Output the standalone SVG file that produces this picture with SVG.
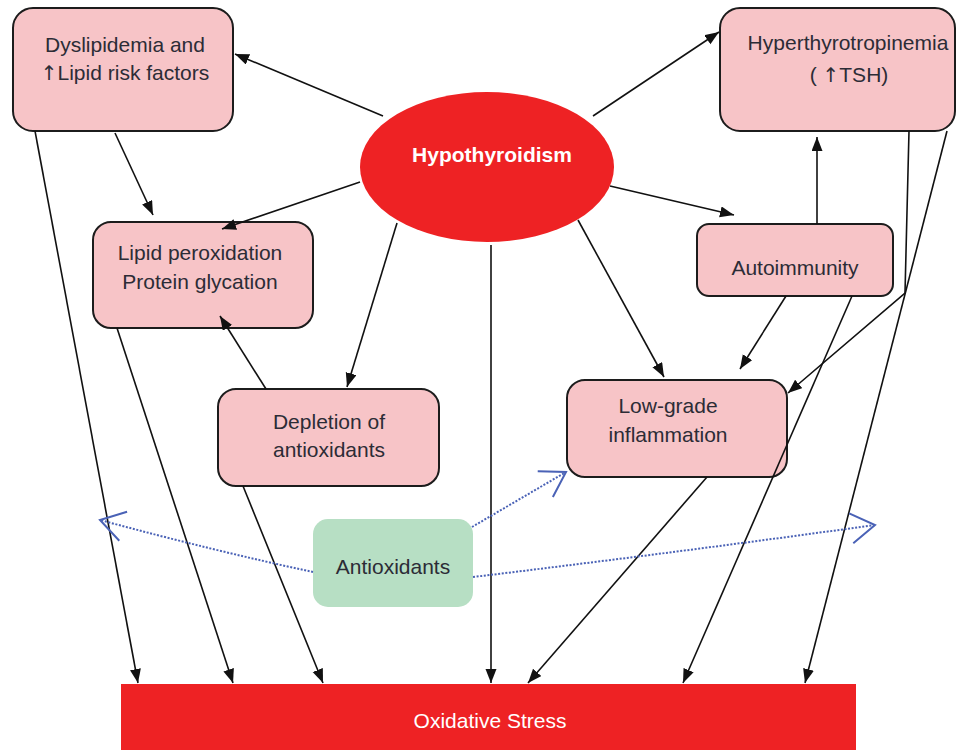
<svg xmlns="http://www.w3.org/2000/svg" width="956" height="750" viewBox="0 0 956 750">
<defs>
<style>
.box{fill:#F7C4C7;stroke:#1c1c1c;stroke-width:2}
.lbl{font-family:"Liberation Sans",Arial,sans-serif;font-size:21px;fill:#2c2c36;text-anchor:middle}
.arr{font-family:"DejaVu Sans","Liberation Sans",sans-serif;font-size:20px;fill:#2c2c36}
.con{stroke:#111;stroke-width:1.6;fill:none;marker-end:url(#ah)}
.dot{stroke:#4a62b6;stroke-width:2;stroke-dasharray:2 1.6;fill:none;marker-end:url(#oh)}
</style>
<marker id="ah" markerUnits="userSpaceOnUse" markerWidth="15" markerHeight="12" refX="14" refY="5.5" orient="auto">
<path d="M0,0 L14,5.5 L0,11 z" fill="#111"/>
</marker>
<marker id="oh" markerUnits="userSpaceOnUse" markerWidth="34" markerHeight="34" refX="30" refY="16" orient="auto" overflow="visible">
<path d="M6,1 L30,16 L6,31" fill="none" stroke="#4a62b6" stroke-width="2"/>
</marker>
</defs>
<rect width="956" height="750" fill="#fff"/>

<g id="hypothyroidism">
<ellipse cx="487" cy="167" rx="127" ry="75" fill="#EE2224"/>
<text class="lbl" x="492" y="162" style="fill:#fff;font-weight:bold">Hypothyroidism</text>
</g>

<g id="dyslipidemia">
<rect class="box" x="13" y="8" width="220" height="123" rx="20"/>
<text class="lbl" x="125" y="52">Dyslipidemia and</text>
<text class="lbl" x="125" y="80"><tspan class="arr">↑</tspan>Lipid risk factors</text>
</g>

<g id="hyperthyrotropinemia">
<rect class="box" x="720" y="8" width="235" height="123" rx="20"/>
<text class="lbl" x="848" y="50">Hyperthyrotropinemia</text>
<text class="lbl" x="849" y="82">( <tspan class="arr">↑</tspan>TSH)</text>
</g>

<g id="lipid-peroxidation">
<rect class="box" x="93" y="222" width="220" height="106" rx="18"/>
<text class="lbl" x="200" y="260">Lipid peroxidation</text>
<text class="lbl" x="200" y="289">Protein glycation</text>
</g>

<g id="autoimmunity">
<rect class="box" x="697" y="224" width="196" height="72" rx="12"/>
<text class="lbl" x="795" y="275">Autoimmunity</text>
</g>

<g id="depletion">
<rect class="box" x="218" y="389" width="221" height="97" rx="18"/>
<text class="lbl" x="329" y="429">Depletion of</text>
<text class="lbl" x="329" y="457">antioxidants</text>
</g>

<g id="low-grade-inflammation">
<rect class="box" x="567" y="380" width="220" height="97" rx="18"/>
<text class="lbl" x="668" y="413">Low-grade</text>
<text class="lbl" x="668" y="442">inflammation</text>
</g>

<g id="antioxidants">
<rect x="313" y="519" width="160" height="88" rx="15" fill="#B7DFC4"/>
<text class="lbl" x="393" y="574">Antioxidants</text>
</g>

<g id="oxidative-stress">
<rect x="121" y="684" width="735" height="66" fill="#EE2224"/>
<text class="lbl" x="490" y="728" style="fill:#fff">Oxidative Stress</text>
</g>

<g id="connectors">
<line class="con" x1="383" y1="116" x2="235" y2="54"/>
<line class="con" x1="593" y1="116" x2="719" y2="32"/>
<line class="con" x1="360" y1="182" x2="222" y2="229"/>
<line class="con" x1="115" y1="133" x2="153" y2="215"/>
<line class="con" x1="266" y1="389" x2="220" y2="316"/>
<line class="con" x1="397" y1="223" x2="347" y2="387"/>
<line class="con" x1="491" y1="245" x2="491" y2="683"/>
<line class="con" x1="610" y1="186" x2="734" y2="215"/>
<line class="con" x1="578" y1="220" x2="664" y2="377"/>
<line class="con" x1="817" y1="224" x2="817" y2="137"/>
<line class="con" x1="786" y1="296" x2="740" y2="369"/>
<polyline class="con" points="909,131 905,293 788,393"/>
<line class="con" x1="947" y1="131" x2="805" y2="683"/>
<line class="con" x1="852" y1="296" x2="683" y2="683"/>
<line class="con" x1="707" y1="477" x2="528" y2="683"/>
<line class="con" x1="35" y1="131" x2="138" y2="683"/>
<line class="con" x1="117" y1="328" x2="233" y2="683"/>
<line class="con" x1="243" y1="486" x2="323" y2="683"/>
<path class="dot" d="M313,572 Q215,551 100,520"/>
<path class="dot" d="M473,577 Q680,552 875,525"/>
<path class="dot" d="M472,527 L566,472"/>
</g>
</svg>
